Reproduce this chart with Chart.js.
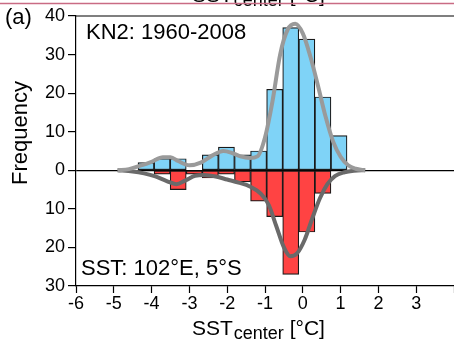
<!DOCTYPE html>
<html>
<head>
<meta charset="utf-8">
<script src="https://cdn.jsdelivr.net/npm/chart.js@4.4.1/dist/chart.umd.min.js"></script>
<style>
  html, body { margin: 0; padding: 0; background: #fff; }
  #wrap { width: 454px; height: 345px; }
</style>
</head>
<body>
<div id="wrap"><canvas id="hist"></canvas></div>
<script>
// histogram bins (centres, degC) and counts
const binCenters = [-4.147, -3.722, -3.296, -2.871, -2.446, -2.020, -1.595, -1.169, -0.744, -0.319, 0.107, 0.532, 0.957]
const kn2Counts = [2, 3, 3, 0, 4, 6, 4, 5, 21, 37, 34, 19, 9]
const sstCounts = [0, 1, 5, 1, 2, 1, 3, 8, 12, 27, 16, 6, 0]

// smoothed density curves
const kn2CurveX = [-4.9, -4.6, -4.3, -4.0, -3.7, -3.5, -3.3, -3.0, -2.7, -2.4, -2.1, -1.9, -1.65, -1.4, -1.2, -1.0, -0.8, -0.6, -0.4, -0.2, 0.0, 0.2, 0.4, 0.6, 0.8, 1.0, 1.2, 1.4, 1.65]
const kn2CurveY = [0, 0.3, 1.2, 2.2, 3.4, 3.4, 2.4, 1.3, 2.0, 3.8, 5.0, 4.6, 3.6, 3.2, 3.6, 8.5, 18, 30, 36.5, 38, 35.5, 29.5, 22, 14, 7.5, 3.5, 1.3, 0.4, 0]
const sstCurveX = [-4.9, -4.5, -4.2, -3.9, -3.6, -3.35, -3.1, -2.85, -2.6, -2.3, -2.0, -1.7, -1.4, -1.1, -0.9, -0.7, -0.5, -0.33, -0.15, 0.05, 0.25, 0.45, 0.65, 0.85, 1.1, 1.35, 1.65]
const sstCurveY = [0, -0.3, -0.8, -1.6, -2.8, -3.6, -2.6, -1.4, -1.2, -1.6, -2.4, -3.2, -4.2, -6.2, -9, -14.5, -20, -22.3, -21.5, -18, -12.5, -7.3, -3.6, -1.5, -0.5, -0.1, 0]

const xTickValues = [-6, -5, -4, -3, -2, -1, 0, 1, 2, 3]
const yTickValues = [-30, -20, -10, 0, 10, 20, 30, 40]

const topLabel = 'KN2: 1960-2008'
const bottomLabel = 'SST: 102°E, 5°S'
const panelLabel = '(a)'
const yTitle = 'Frequency'

const FONT = '"Liberation Sans", Arial, sans-serif'

function xTitle(ctx, x, y) {
  ctx.textAlign = 'left'
  ctx.font = '21px ' + FONT
  ctx.fillText('SST', x, y)
  let w = ctx.measureText('SST').width
  ctx.font = '18px ' + FONT
  ctx.fillText('center', x + w + 1, y + 4)
  w += ctx.measureText('center').width + 1
  ctx.font = '21px ' + FONT
  ctx.fillText(' [°C]', x + w, y)
}

const decorations = {
  id: 'decorations',
  afterDraw(chart) {
    const { ctx, chartArea } = chart
    ctx.save()
    ctx.strokeStyle = '#000'
    ctx.lineWidth = 1.2
    ctx.beginPath()
    ctx.moveTo(chartArea.left, chartArea.top)
    ctx.lineTo(chartArea.right, chartArea.top)
    ctx.stroke()

    ctx.fillStyle = '#000'
    ctx.textBaseline = 'alphabetic'
    ctx.font = '22px ' + FONT
    ctx.fillText(panelLabel, 5, 24)
    ctx.fillText(topLabel, 86, 39)
    ctx.fillText(bottomLabel, 81, 275)

    xTitle(ctx, 192, 335)
    // axis title of the panel above, cut off by the crop
    xTitle(ctx, 192, 2)
    ctx.strokeStyle = '#c96b84'
    ctx.lineWidth = 1.5
    ctx.beginPath()
    ctx.moveTo(0, 3.5)
    ctx.lineTo(454, 3.5)
    ctx.stroke()

    ctx.font = '22px ' + FONT
    ctx.translate(27, 133)
    ctx.rotate(-Math.PI / 2)
    ctx.textAlign = 'center'
    ctx.fillText(yTitle, 0, 0)
    ctx.restore()
  }
}

const ctx = document.getElementById('hist').getContext('2d')

new Chart(ctx, {
  type: 'bar',
  data: {
    datasets: [
      {
        type: 'line',
        data: kn2CurveX.map((x, i) => ({ x: x, y: kn2CurveY[i] })),
        borderColor: '#9a9a9a',
        borderWidth: 4,
        pointRadius: 0,
        cubicInterpolationMode: 'monotone',
        order: 0
      },
      {
        type: 'line',
        data: sstCurveX.map((x, i) => ({ x: x, y: sstCurveY[i] })),
        borderColor: '#6a6a6a',
        borderWidth: 4,
        pointRadius: 0,
        cubicInterpolationMode: 'monotone',
        order: 0
      },
      {
        data: binCenters.map((x, i) => ({ x: x, y: kn2Counts[i] })),
        backgroundColor: '#7fd3f7',
        borderColor: '#1a1a1a',
        borderWidth: 1.2,
        borderSkipped: false,
        grouped: false,
        barPercentage: 1,
        categoryPercentage: 1,
        order: 1
      },
      {
        data: binCenters.map((x, i) => ({ x: x, y: -sstCounts[i] })),
        backgroundColor: '#ff4343',
        borderColor: '#1a1a1a',
        borderWidth: 1.2,
        borderSkipped: false,
        grouped: false,
        barPercentage: 1,
        categoryPercentage: 1,
        order: 1
      }
    ]
  },
  options: {
    responsive: true,
    maintainAspectRatio: false,
    animation: false,
    layout: { padding: { top: 16, right: 0, left: 0, bottom: 0 } },
    plugins: { legend: { display: false }, tooltip: { enabled: false } },
    scales: {
      x: {
        type: 'linear',
        min: -6,
        max: 4,
        offset: false,
        afterFit: s => { s.height = 59 },
        afterBuildTicks: s => { s.ticks = xTickValues.concat([4]).map(v => ({ value: v })) },
        ticks: {
          color: '#000',
          font: { family: FONT, size: 18 },
          padding: 0,
          maxRotation: 0,
          autoSkip: false,
          callback: v => xTickValues.includes(v) ? String(v) : ''
        },
        grid: { offset: false, drawOnChartArea: false, tickLength: 7, tickColor: '#000', tickWidth: 1.2 },
        border: { display: true, color: '#000', width: 1.2 }
      },
      y: {
        min: -30,
        max: 40,
        afterFit: s => { s.width = 76 },
        afterBuildTicks: s => { s.ticks = yTickValues.map(v => ({ value: v })) },
        ticks: {
          color: '#000',
          font: { family: FONT, size: 18 },
          padding: 3,
          callback: v => String(Math.abs(v))
        },
        grid: {
          color: c => c.tick && c.tick.value === 0 ? '#000' : 'rgba(0,0,0,0)',
          lineWidth: 1.2,
          tickLength: 8,
          tickColor: '#000',
          tickWidth: 1.2
        },
        border: { display: true, color: '#000', width: 1.2 }
      }
    }
  },
  plugins: [decorations]
})
</script>
</body>
</html>
